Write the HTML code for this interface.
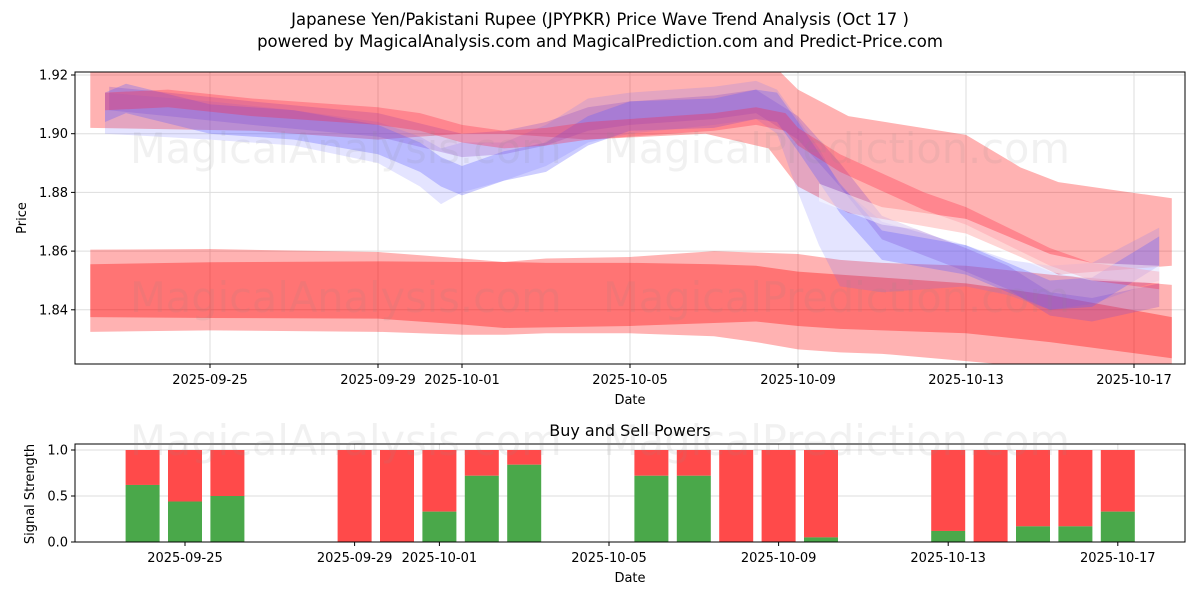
<!DOCTYPE html>
<html><head><meta charset="utf-8"><style>
body{margin:0;background:#fff;}
svg text{font-family:"DejaVu Sans","Liberation Sans",sans-serif;}
</style></head><body>
<svg id="chart" width="1200" height="600" xmlns="http://www.w3.org/2000/svg">
<rect width="1200" height="600" fill="#fff"/>
<text x="600" y="25" font-size="16.5" text-anchor="middle">Japanese Yen/Pakistani Rupee (JPYPKR) Price Wave Trend Analysis (Oct 17 )</text>
<text x="600" y="47" font-size="16.5" text-anchor="middle">powered by MagicalAnalysis.com and MagicalPrediction.com and Predict-Price.com</text>
<defs><clipPath id="clipTop"><rect x="75" y="72" width="1110" height="292"/></clipPath></defs>
<g id="topGrid"></g>
<g id="bands" clip-path="url(#clipTop)"></g>
<g id="topAxes"></g>
<g id="botGrid"></g>
<g id="bars"></g>
<g id="botAxes"></g>
<g font-size="41.5" fill="#888" fill-opacity="0.12">
<text x="130" y="163">MagicalAnalysis.com</text><text x="603" y="163">MagicalPrediction.com</text>
<text x="130" y="312">MagicalAnalysis.com</text><text x="603" y="312">MagicalPrediction.com</text>
<text x="130" y="455">MagicalAnalysis.com</text><text x="603" y="455">MagicalPrediction.com</text>
</g>
</svg>
<script>
// ---- Top chart data (day offsets from 2025-09-22) ----
const envDays=[0.15,4,7,9,10,12,14.8,16.3,17,18.2,21,22.3,23.2,25.9];
const envHi=[1.925,1.925,1.925,1.925,1.925,1.925,1.925,1.925,1.915,1.906,1.8996,1.8885,1.8835,1.878];
const envLo=[1.902,1.901,1.898,1.900,1.900,1.898,1.900,1.895,1.882,1.873,1.866,1.858,1.852,1.855];
const lowDays=[0.15,3,7,9,10,11,13,15,16,17,18,19,21,23,25.9];
const outerHi=[1.8605,1.8607,1.8597,1.8575,1.8563,1.8575,1.858,1.8600,1.8595,1.859,1.857,1.856,1.855,1.852,1.8485];
const outerLo=[1.8325,1.833,1.8325,1.8315,1.8315,1.832,1.832,1.831,1.829,1.8265,1.8255,1.825,1.8225,1.820,1.818];
const innerHi=[1.8555,1.8562,1.8565,1.8563,1.8563,1.856,1.856,1.8555,1.855,1.853,1.852,1.851,1.849,1.845,1.8375];
const innerLo=[1.8375,1.8372,1.837,1.835,1.8338,1.834,1.8345,1.8355,1.836,1.8345,1.8335,1.833,1.832,1.829,1.8235];
const lbDays=[0.5,3,5,7,8,8.5,9,10,11,12,13,15,16,16.5,17,17.5,18,19,21,22,23,24,25.6];
const lbLo=[1.900,1.898,1.896,1.890,1.882,1.876,1.880,1.884,1.889,1.897,1.900,1.903,1.905,1.900,1.880,1.862,1.848,1.846,1.848,1.845,1.840,1.842,1.850];
const lbHi=[1.914,1.911,1.908,1.904,1.899,1.895,1.897,1.897,1.903,1.912,1.914,1.916,1.918,1.915,1.905,1.895,1.882,1.870,1.862,1.857,1.855,1.856,1.868];
const redDays=[0.5,2,4,7,8,9,9.5,10,11,12,13,15,16,16.7,17,18,20,21,22,23,24,25.6];
const redMid=[1.911,1.912,1.909,1.906,1.904,1.900,1.899,1.898,1.899,1.901,1.902,1.904,1.906,1.904,1.899,1.890,1.877,1.872,1.865,1.858,1.853,1.850];
const blueDays=[0.5,1,3,5,7,8,8.5,9,10,11,12,13,15,16,16.5,17,18,19,21,22,23,24,25.6];
const blueMid=[1.909,1.912,1.905,1.903,1.898,1.892,1.887,1.884,1.889,1.892,1.901,1.906,1.907,1.910,1.909,1.899,1.878,1.862,1.857,1.851,1.845,1.846,1.860];
const purDays=[0.6,2,4,7,9,10,11,12,13,15,16,17,18,19,21,22,23,24,25.6];
const purMid=[1.912,1.910,1.907,1.903,1.896,1.897,1.900,1.905,1.907,1.909,1.911,1.902,1.886,1.868,1.857,1.851,1.842,1.840,1.845];
const paleDays=[17.5,19,21,22,23,24,25.6];
const paleMid=[1.880,1.872,1.868,1.862,1.856,1.853,1.852];
const priceTicks=[1.84,1.86,1.88,1.90,1.92];
const dateTickDays=[3,7,9,13,17,21,25];
const dateTickLabels=['2025-09-25','2025-09-29','2025-10-01','2025-10-05','2025-10-09','2025-10-13','2025-10-17'];
// ---- Bottom chart data ----
const barDays=[2,3,4,7,8,9,10,11,14,15,16,17,18,21,22,23,24,25];
const buyPower=[0.62,0.44,0.5,0,0,0.33,0.72,0.84,0.72,0.72,0,0,0.05,0.12,0,0.17,0.17,0.33];
const strengthTicks=[0,0.5,1.0];
const strengthLabels=['0.0','0.5','1.0'];

const NS='http://www.w3.org/2000/svg';
function mk(tag,attrs,parent){const e=document.createElementNS(NS,tag);for(const k in attrs)e.setAttribute(k,attrs[k]);parent.appendChild(e);return e;}
const xTop=d=>84+42*d;
const yTop=v=>75+(1.92-v)/0.02*58.7;
const xBot=d=>185+42.4*(d-3);
const yBot=v=>542-92*v;

const bandsG=document.getElementById('bands');
function band(days,lo,hi,color,op,name){
  let pts=days.map((d,i)=>xTop(d)+','+yTop(hi[i]));
  for(let i=days.length-1;i>=0;i--)pts.push(xTop(days[i])+','+yTop(lo[i]));
  const p=mk('polygon',{points:pts.join(' '),fill:color,'fill-opacity':op},bandsG);
  
  
}
function midBand(days,mid,w,color,op,name){
  band(days,mid.map(v=>v-w),mid.map(v=>v+w),color,op,name);
}
band(envDays,envLo,envHi,'#ff0000',0.3,'upper-envelope-band');
band(lowDays,outerLo,outerHi,'#ff0000',0.3,'lower-outer-band');
band(lowDays,innerLo,innerHi,'#ff0000',0.35,'lower-inner-band');
band(lbDays,lbLo,lbHi,'#6a6aff',0.18,'light-blue-band');
midBand(purDays,purMid,0.004,'#9050c8',0.3,'purple-wave-band');
midBand(blueDays,blueMid,0.005,'#5a5aff',0.3,'blue-wave-band');
midBand(redDays,redMid,0.003,'#ff2040',0.3,'red-wave-band');
midBand(paleDays,paleMid,0.003,'#ffffff',0.45,'pale-wave-band');

// top grid & axes
const tg=document.getElementById('topGrid'),ta=document.getElementById('topAxes');
dateTickDays.forEach((d,i)=>{
  const x=xTop(d);
  mk('line',{x1:x,x2:x,y1:72,y2:364,stroke:'#ddd','stroke-width':1},tg);
  mk('line',{x1:x,x2:x,y1:364,y2:368,stroke:'#000'},ta);
  const t=mk('text',{x:x,y:384,'font-size':13,'text-anchor':'middle'},ta);t.textContent=dateTickLabels[i];
  
  
});
priceTicks.forEach(v=>{
  const y=yTop(v);
  mk('line',{x1:75,x2:1185,y1:y,y2:y,stroke:'#ddd','stroke-width':1},tg);
  mk('line',{x1:71,x2:75,y1:y,y2:y,stroke:'#000'},ta);
  const t=mk('text',{x:68,y:y+4.5,'font-size':13,'text-anchor':'end'},ta);t.textContent=v.toFixed(2);
  
  
});
mk('rect',{x:75,y:72,width:1110,height:292,fill:'none',stroke:'#000','stroke-width':1},ta);
let t=mk('text',{x:630,y:404,'font-size':13,'text-anchor':'middle'},ta);t.textContent='Date';

t=mk('text',{x:26,y:218,'font-size':13,'text-anchor':'middle',transform:'rotate(-90 26 218)'},ta);t.textContent='Price';


// bottom chart
const bg=document.getElementById('botGrid'),bb=document.getElementById('bars'),ba=document.getElementById('botAxes');
dateTickDays.forEach((d,i)=>{
  const x=xBot(d);
  mk('line',{x1:x,x2:x,y1:444,y2:542,stroke:'#ddd'},bg);
  mk('line',{x1:x,x2:x,y1:542,y2:546,stroke:'#000'},ba);
  const tt=mk('text',{x:x,y:562,'font-size':13,'text-anchor':'middle'},ba);tt.textContent=dateTickLabels[i];
  
  
});
strengthTicks.forEach((v,i)=>{
  const y=yBot(v);
  mk('line',{x1:75,x2:1185,y1:y,y2:y,stroke:'#ddd'},bg);
  mk('line',{x1:71,x2:75,y1:y,y2:y,stroke:'#000'},ba);
  const tt=mk('text',{x:68,y:y+4.5,'font-size':13,'text-anchor':'end'},ba);tt.textContent=strengthLabels[i];
  
  
});
barDays.forEach((d,i)=>{
  const x=xBot(d)-17,b=buyPower[i];
  const r=mk('rect',{x:x,y:yBot(1),width:34,height:yBot(b)-yBot(1),fill:'#ff4a4a'},bb);
  
  
  const g=mk('rect',{x:x,y:yBot(b),width:34,height:yBot(0)-yBot(b),fill:'#4aa84a'},bb);
  
  
});
mk('rect',{x:75,y:444,width:1110,height:98,fill:'none',stroke:'#000'},ba);
t=mk('text',{x:630,y:436,'font-size':16,'text-anchor':'middle'},ba);t.textContent='Buy and Sell Powers';

t=mk('text',{x:630,y:582,'font-size':13,'text-anchor':'middle'},ba);t.textContent='Date';

t=mk('text',{x:34,y:494,'font-size':13,'text-anchor':'middle',transform:'rotate(-90 34 494)'},ba);t.textContent='Signal Strength';

</script>
</body></html>
